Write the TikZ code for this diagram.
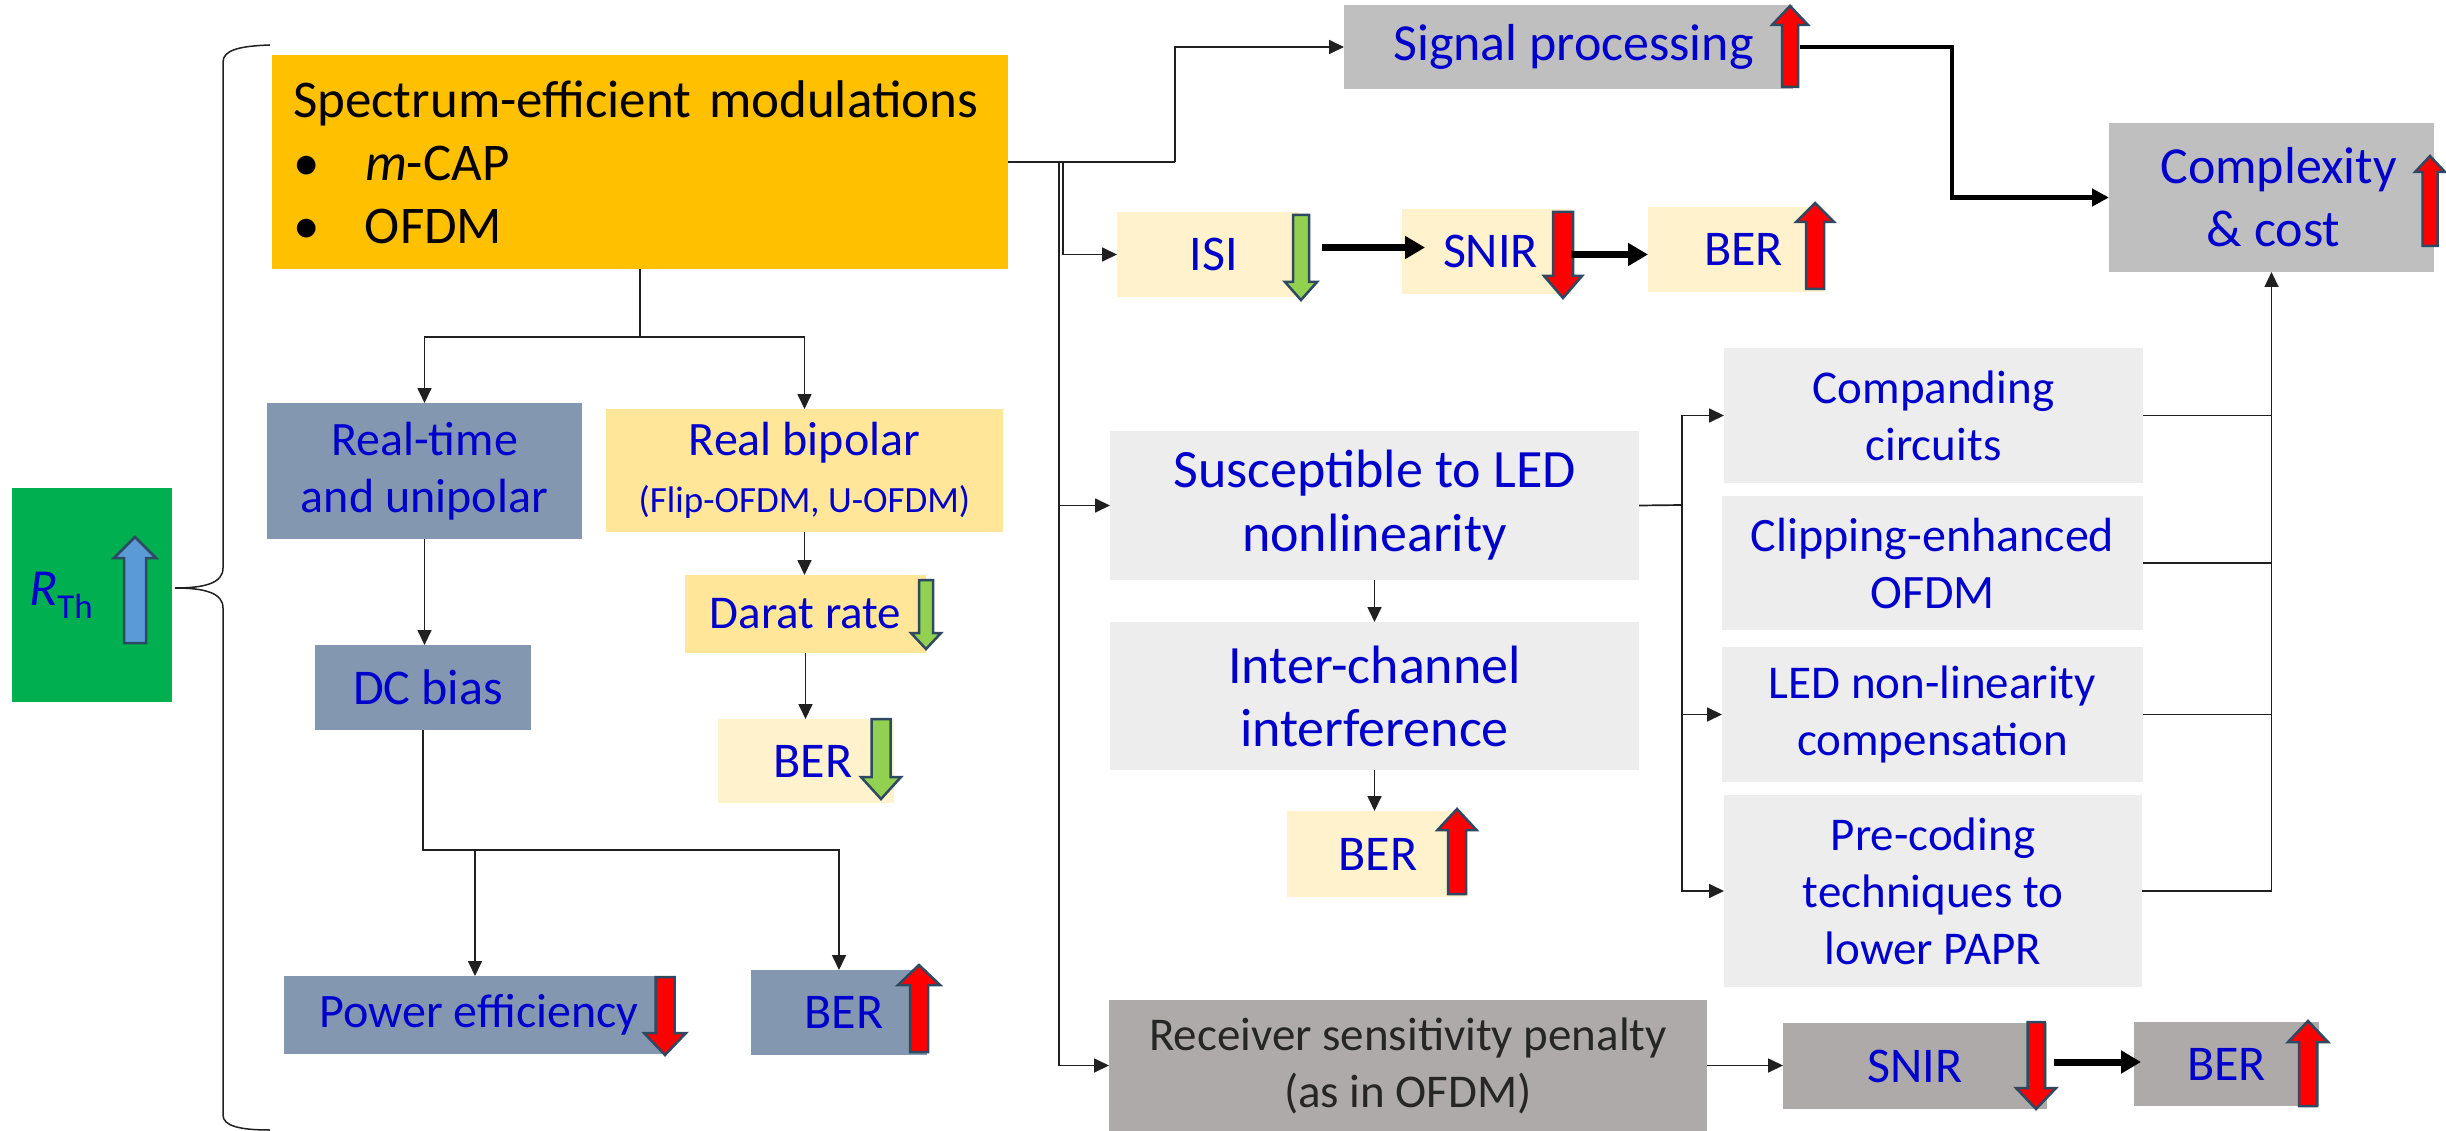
\documentclass[tikz,border=0pt]{standalone}
\usepackage{fontspec}
\setmainfont{Carlito}
\usetikzlibrary{arrows.meta,calc}

\definecolor{cOrange}{HTML}{FFC000}
\definecolor{cGreen}{HTML}{00B050}
\definecolor{cGrayA}{HTML}{BFBFBF}
\definecolor{cCream}{HTML}{FFF2CC}
\definecolor{cYellow}{HTML}{FFE699}
\definecolor{cSlate}{HTML}{8497B0}
\definecolor{cLight}{HTML}{EDEDED}
\definecolor{cGrayB}{HTML}{AEAAAA}
\definecolor{txtblue}{HTML}{0000CC}
\definecolor{txtdark}{HTML}{262626}
\definecolor{aRed}{HTML}{FF0000}
\definecolor{aGreen}{HTML}{92D050}
\definecolor{aBlue}{HTML}{5B9BD5}
\definecolor{aEdge}{HTML}{2E4A62}
\definecolor{lineC}{HTML}{202020}

\newcommand{\fsz}[2]{\fontsize{#1pt}{#2pt}\selectfont}

% rectangle node given by its corners (x1,y1)-(x2,y2), y measured downwards
\newcommand{\boxnode}[7][]{%
  \pgfmathsetmacro\bxw{#5-#3}\pgfmathsetmacro\bxh{#6-#4}%
  \pgfmathsetmacro\bxc{(#3+#5)/2}\pgfmathsetmacro\byc{(#4+#6)/2}%
  \node[box,#1,minimum width=\bxw pt,minimum height=\bxh pt] (#2) at (\bxc,\byc) {#7};}

% block arrows: centre x, top y, bottom y, head half width, shaft half width, head length, fill
\newcommand{\blockup}[7]{%
  \draw[blk,fill=#7] ({#1-#5},#3) -- ({#1-#5},{#2+#6}) -- ({#1-#4},{#2+#6}) -- (#1,#2)
    -- ({#1+#4},{#2+#6}) -- ({#1+#5},{#2+#6}) -- ({#1+#5},#3) -- cycle;}
\newcommand{\blockdown}[7]{%
  \draw[blk,fill=#7] ({#1-#5},#2) -- ({#1-#5},{#3-#6}) -- ({#1-#4},{#3-#6}) -- (#1,#3)
    -- ({#1+#4},{#3-#6}) -- ({#1+#5},{#3-#6}) -- ({#1+#5},#2) -- cycle;}

\tikzset{
  box/.style={rectangle, inner sep=0pt, outer sep=0pt, align=center,
    text=txtblue, font=\fsz{50}{58}},
  conn/.style={draw=lineC, line width=1.7pt, -{Triangle[length=15pt,width=14pt]}},
  plain/.style={draw=lineC, line width=1.7pt},
  thickarr/.style={draw=black, line width=7pt, -{Triangle[length=20pt,width=22pt]}},
  thickline/.style={draw=black, line width=4.5pt, -{Triangle[length=17pt,width=17pt]}},
  blk/.style={draw=aEdge, line width=2.5pt, line join=miter},
}

\begin{document}
\begin{tikzpicture}[x=1pt,y=-1pt]
\useasboundingbox (0,0) rectangle (2446,1131);
\fill[white] (0,0) rectangle (2446,1131);

% ---- left part ----
\boxnode[fill=cGreen, font=\fsz{52}{58}]{rth}{12}{488}{172}{702}
  {\textit{R}\raisebox{-13pt}{\fsz{35}{35}Th}\hspace*{62pt}}
\blockup{135}{537}{643}{21}{11}{21}{aBlue}

\draw[line width=1.5pt, draw=lineC] (270,45) .. controls (240,46) and (223,50) .. (223,62)
  -- (223,568) .. controls (223,583) and (205,588) .. (175,588)
  .. controls (205,588) and (223,593) .. (223,608)
  -- (223,1115) .. controls (223,1126) and (240,1130) .. (270,1130);

\boxnode[fill=cOrange, text=black, align=left, text width=694pt, font=\fsz{53}{63}]{orange}{272}{55}{1008}{269}
  {Spectrum-efficient modulations\\
   \makebox[72pt][l]{\textbullet}\textit{m}-CAP\\
   \makebox[72pt][l]{\textbullet}OFDM}

\boxnode[fill=cSlate, font=\fsz{48}{57}]{rt}{267}{403}{582}{539}{Real-time\\and unipolar}
\boxnode[fill=cYellow, font=\fsz{48}{57}]{rb}{606}{409}{1003}{532}
  {Real bipolar\\{\fsz{37}{40}(Flip-OFDM, U-OFDM)}}
\boxnode[fill=cSlate]{dc}{315}{645}{531}{730}{\hspace*{10pt}DC bias}
\boxnode[fill=cYellow, font=\fsz{47}{55}]{darat}{685}{575}{926}{653}{Darat rate}
\boxnode[fill=cCream]{berY}{718}{719}{894}{803}{\hspace*{14pt}BER}
\boxnode[fill=cSlate, font=\fsz{48}{55}]{pe}{284}{976}{666}{1054}{\hspace*{8pt}Power efficiency}
\boxnode[fill=cSlate]{berB}{751}{970}{927}{1055}{\hspace*{10pt}BER}

\blockdown{926}{580}{649}{15}{7}{16}{aGreen}
\blockdown{881}{719}{799}{20}{9.5}{22}{aGreen}
\blockdown{665}{977}{1055}{21}{9.5}{22}{aRed}
\blockup{919}{965}{1052}{21}{9}{20}{aRed}

% ---- right part ----
\boxnode[fill=cGrayA, font=\fsz{52}{58}]{signal}{1344}{5}{1793}{89}{\hspace*{10pt}Signal processing}
\boxnode[fill=cCream]{isi}{1117}{212}{1299}{297}{\hspace*{12pt}ISI}
\boxnode[fill=cCream]{snir}{1402}{209}{1571}{294}{\hspace*{8pt}SNIR}
\boxnode[fill=cCream]{berT}{1648}{207}{1825}{292}{\hspace*{14pt}BER}
\boxnode[fill=cGrayA, font=\fsz{52}{63}]{cx}{2109}{123}{2434}{272}{\hspace*{14pt}Complexity\\\hspace*{4pt}\& cost}

\boxnode[fill=cLight, font=\fsz{54}{64}]{susc}{1110}{431}{1639}{580}{Susceptible to LED\\nonlinearity}
\boxnode[fill=cLight, font=\fsz{54}{63}]{ici}{1110}{622}{1639}{770}{Inter-channel\\interference}
\boxnode[fill=cCream]{berM}{1287}{811}{1465}{897}{\hspace*{4pt}BER}

\boxnode[fill=cLight, font=\fsz{47}{57}]{comp}{1724}{348}{2143}{483}{Companding\\circuits}
\boxnode[fill=cLight, font=\fsz{48}{57}]{clip}{1722}{496}{2143}{630}{Clipping-enhanced\\OFDM}
\boxnode[fill=cLight, font=\fsz{47}{57}]{led}{1722}{647}{2143}{782}{LED non-linearity\\compensation}
\boxnode[fill=cLight, font=\fsz{47}{57}]{pre}{1724}{795}{2142}{987}{Pre-coding\\techniques to\\lower PAPR}

\boxnode[fill=cGrayB, text=txtdark, font=\fsz{47}{57}]{recv}{1109}{1000}{1707}{1131}
  {Receiver sensitivity penalty\\(as in OFDM)}
\boxnode[fill=cGrayB]{snir2}{1783}{1023}{2047}{1109}{SNIR}
\boxnode[fill=cGrayB]{ber2}{2134}{1022}{2319}{1106}{BER}

\blockup{1790}{6}{87}{18}{8}{19}{aRed}
\blockdown{1301}{215}{300}{16}{8}{18}{aGreen}
\blockdown{1563}{212}{298}{19}{10}{22}{aRed}
\blockup{1815}{203}{289}{19}{9}{19}{aRed}
\blockup{2430}{156}{246}{15}{7.5}{16}{aRed}
\blockup{1457}{809}{894}{19.5}{9}{21}{aRed}
\blockdown{2036}{1022}{1109}{20}{8.5}{21}{aRed}
\blockup{2308}{1021}{1106}{20}{9}{21}{aRed}

% ---- connectors ----
\coordinate (j1) at (1175,162);
\coordinate (b1) at (1059,162);
\coordinate (b2) at (1063,162);
\draw[plain] (orange.east) -- (j1);
\draw[conn] (j1) |- (signal.west);
\draw[conn] (b2) |- (isi.west);
\draw[conn] (b1) |- (susc.west);
\draw[conn] (b1) |- (recv.west);

\draw[thickarr] ([shift={(23,-7)}]isi.east) -- ([shift={(23,-7)}]isi.east -| snir.west);
\draw[thickarr] ([shift={(0,3)}]snir.east) -- ([shift={(0,3)}]snir.east -| berT.west);
\draw[thickline] ([shift={(7,0)}]signal.east) -- ++(152,0) |- (cx.west);

\coordinate (j3) at (640,337);
\draw[plain] (orange.south) -- (j3);
\draw[conn] (j3) -| (rt.north);
\draw[conn] (j3) -| (rb.north);
\draw[conn] (rt.south) -- (rt.south |- dc.north);
\draw[conn] (rb.south) -- (rb.south |- darat.north);
\draw[conn] (darat.south) -- (darat.south |- berY.north);

\coordinate (j4) at (424,850);
\draw[plain] (dc.south) -- (dc.south |- j4) -- (j4);
\draw[conn] (j4) -| (berB.north);
\draw[conn] (j4) -| (pe.north);

\draw[conn] (susc.south) -- (ici.north);
\draw[conn] (ici.south) -- (ici.south |- berM.north);

\coordinate (j5) at (1682,505);
\draw[plain] (susc.east) -- (j5);
\draw[conn] (j5) |- (comp.west);
\draw[conn] (j5) |- (led.west);
\draw[conn] (j5) |- (pre.west);

\draw[plain] (comp.east) -- (comp.east -| cx.south);
\draw[plain] (clip.east) -- (clip.east -| cx.south);
\draw[plain] (led.east) -- (led.east -| cx.south);
\draw[conn] (pre.east) -| (cx.south);

\draw[conn] (recv.east) -- (recv.east -| snir2.west);
\draw[thickarr] ([shift={(7,-4)}]snir2.east) -- ([shift={(7,-4)}]snir2.east -| ber2.west);
\end{tikzpicture}
\end{document}
